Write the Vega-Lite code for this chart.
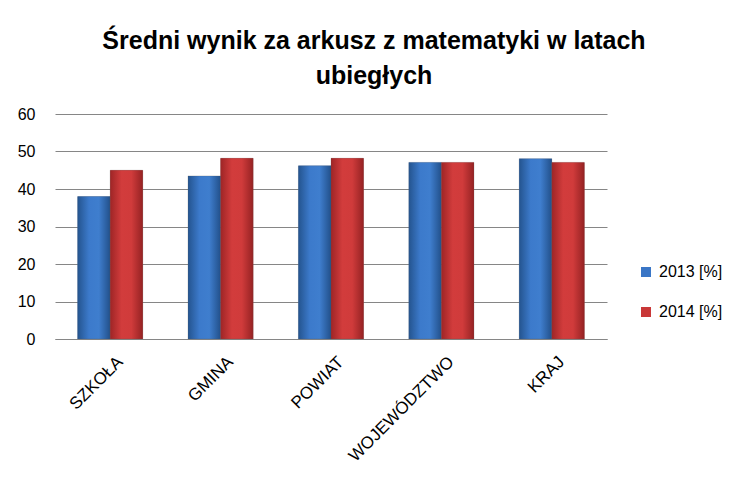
{
  "$schema": "https://vega.github.io/schema/vega-lite/v6.json",
  "autosize": {"type": "none"},
  "width": 552,
  "height": 225,
  "padding": {"left": 55, "top": 114, "right": 146, "bottom": 153},
  "background": "white",
  "title": {
    "text": ["Średni wynik za arkusz z matematyki w latach", "ubiegłych"],
    "font": "Liberation Sans",
    "fontSize": 25,
    "fontWeight": "bold",
    "color": "#000000",
    "anchor": "middle",
    "dx": 43,
    "offset": 17,
    "lineHeight": 35
  },
  "data": {
    "values": [
      {"kategoria": "SZKOŁA", "rok": "2013 [%]", "wynik": 38},
      {"kategoria": "SZKOŁA", "rok": "2014 [%]", "wynik": 45},
      {"kategoria": "GMINA", "rok": "2013 [%]", "wynik": 43.5},
      {"kategoria": "GMINA", "rok": "2014 [%]", "wynik": 48.2},
      {"kategoria": "POWIAT", "rok": "2013 [%]", "wynik": 46.2},
      {"kategoria": "POWIAT", "rok": "2014 [%]", "wynik": 48.2},
      {"kategoria": "WOJEWÓDZTWO", "rok": "2013 [%]", "wynik": 47.1},
      {"kategoria": "WOJEWÓDZTWO", "rok": "2014 [%]", "wynik": 47.1},
      {"kategoria": "KRAJ", "rok": "2013 [%]", "wynik": 48.1},
      {"kategoria": "KRAJ", "rok": "2014 [%]", "wynik": 47.1}
    ]
  },
  "encoding": {
    "x": {
      "field": "kategoria",
      "type": "nominal",
      "sort": ["SZKOŁA", "GMINA", "POWIAT", "WOJEWÓDZTWO", "KRAJ"],
      "scale": {"paddingInner": 0.41, "paddingOuter": 0.205},
      "axis": {
        "title": null,
        "labelAngle": -45,
        "labelAlign": "right",
        "labelBaseline": "middle",
        "labelFont": "Liberation Sans",
        "labelFontSize": 17,
        "labelColor": "#000000",
        "labelPadding": 20,
        "labelOffset": 10,
        "ticks": false,
        "domainColor": "#868686",
        "domainWidth": 1
      }
    },
    "xOffset": {"field": "rok", "type": "nominal"},
    "y": {
      "field": "wynik",
      "type": "quantitative",
      "scale": {"domain": [0, 60]},
      "axis": {
        "title": null,
        "values": [0, 10, 20, 30, 40, 50, 60],
        "labelFont": "Liberation Sans",
        "labelFontSize": 16,
        "labelColor": "#000000",
        "labelPadding": 20,
        "ticks": false,
        "domain": false,
        "gridColor": "#868686",
        "gridWidth": 1
      }
    }
  },
  "layer": [
    {
      "mark": {"type": "bar"},
      "encoding": {
        "color": {
          "field": "rok",
          "type": "nominal",
          "scale": {
            "domain": ["2013 [%]", "2014 [%]"],
            "range": ["#3a76c6", "#c93838"]
          },
          "legend": {
            "title": null,
            "orient": "none",
            "legendX": 583,
            "legendY": 150,
            "symbolType": "square",
            "symbolSize": 100,
            "symbolStrokeWidth": 0,
            "labelFont": "Liberation Sans",
            "labelFontSize": 16,
            "labelColor": "#000000",
            "rowPadding": 24,
            "labelOffset": 5
          }
        }
      }
    },
    {
      "mark": {"type": "bar", "stroke": "#5a5a5a", "strokeWidth": 0.4, "strokeOpacity": 0.6},
      "encoding": {
        "fill": {
          "condition": {
            "test": "datum.rok === '2013 [%]'",
            "value": {"gradient": "linear", "x1": 0, "y1": 0, "x2": 1, "y2": 0, "stops": [
              {"offset": 0, "color": "#24548f"},
              {"offset": 0.35, "color": "#3c7acb"},
              {"offset": 0.65, "color": "#3f7ece"},
              {"offset": 1, "color": "#22508a"}
            ]}
          },
          "value": {"gradient": "linear", "x1": 0, "y1": 0, "x2": 1, "y2": 0, "stops": [
            {"offset": 0, "color": "#9e2526"},
            {"offset": 0.35, "color": "#d23c3c"},
            {"offset": 0.65, "color": "#d03b3b"},
            {"offset": 1, "color": "#952223"}
          ]}
        }
      }
    }
  ],
  "config": {
    "view": {"stroke": null}
  }
}
